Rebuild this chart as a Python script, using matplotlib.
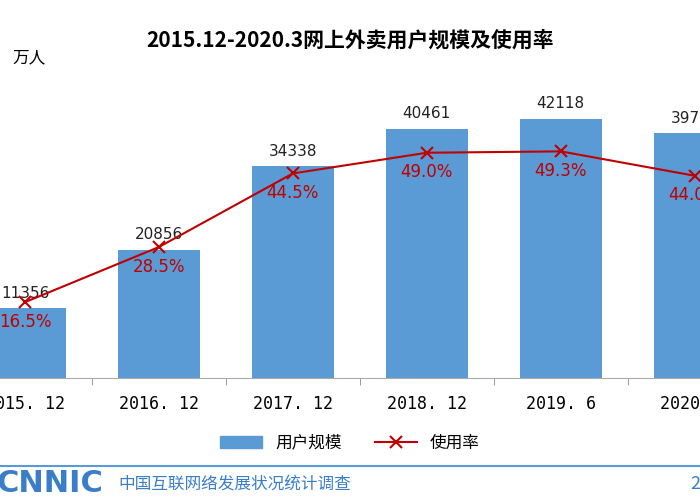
import matplotlib.pyplot as plt
from matplotlib.lines import Line2D
from matplotlib import font_manager

cjk = [f.name for f in font_manager.fontManager.ttflist if "CJK" in f.name]
plt.rcParams["font.family"] = ["Noto Sans CJK SC", "Noto Sans CJK JP"] + cjk[:1] + ["DejaVu Sans"]

categories = ["2015. 12", "2016. 12", "2017. 12", "2018. 12", "2019. 6", "2020. 3"]
users = [11356, 20856, 34338, 40461, 42118, 39780]
rate = [16.5, 28.5, 44.5, 49.0, 49.3, 44.0]

W, H = 700, 500
fig = plt.figure(figsize=(7, 5), dpi=100)
# axes spans full width so outer categories are cut off like the reference
ax = fig.add_axes([0, 1 - 378 / H, 1, 308 / H])
x = list(range(len(categories)))
ax.bar(x, users, width=0.61, color="#5b9bd5", zorder=2)
ax.set_xlim(-0.187, 5.04)
ax.set_ylim(0, 50000)
for i, v in enumerate(users):
    ax.text(i, v + 1200, str(v), ha="center", va="bottom", fontsize=11, color="#222222",
            family="DejaVu Sans")
ax.set_xticks(x)
ax.set_xticklabels(categories, fontsize=12, family="DejaVu Sans Mono")
ax.set_xticks([i + 0.5 for i in x[:-1]], minor=True)
ax.tick_params(axis="x", which="major", length=0, pad=12)
ax.tick_params(axis="x", which="minor", length=5, color="#888888")
ax.set_yticks([])
for s in ["top", "left", "right"]:
    ax.spines[s].set_visible(False)
ax.spines["bottom"].set_color("#aaaaaa")

ax2 = ax.twinx()
ax2.plot(x, rate, color="#c00000", marker="x", markersize=8, markeredgewidth=1.5, lw=1.5, zorder=3)
ax2.set_ylim(0, 67)
ax2.set_xlim(ax.get_xlim())
for i, r in enumerate(rate):
    ax2.text(i, r - 2.3, f"{r:.1f}%", ha="center", va="top", fontsize=12, color="#c00000",
             family="DejaVu Sans")
ax2.axis("off")

fig.text(0.5, 1 - 40 / H, "2015.12-2020.3网上外卖用户规模及使用率", ha="center", va="center",
         fontsize=15, fontweight="bold")
fig.text(12 / W, 1 - 58 / H, "万人", fontsize=12, va="center")

handles = [plt.Rectangle((0, 0), 1, 1, color="#5b9bd5"),
           Line2D([], [], color="#c00000", marker="x", markersize=8, markeredgewidth=1.5)]
fig.legend(handles, ["用户规模", "使用率"], loc="center", bbox_to_anchor=(0.5, 1 - 443 / H),
           ncol=2, frameon=False, fontsize=12, handlelength=2.5, columnspacing=2)

fig.add_artist(Line2D([0, 1], [1 - 466 / H] * 2, color="#5b9bd5", lw=1.5))
fig.text(-4 / W, 1 - 484 / H, "CNNIC", fontsize=22, fontweight="bold", color="#3a7dc9",
         va="center", family="DejaVu Sans")
fig.text(118 / W, 1 - 484 / H, "中国互联网络发展状况统计调查", fontsize=12, color="#3a7dc9", va="center")
fig.text(690 / W, 1 - 484 / H, "2", fontsize=13, color="#3a7dc9", va="center")

fig.savefig("out.png", dpi=100)
